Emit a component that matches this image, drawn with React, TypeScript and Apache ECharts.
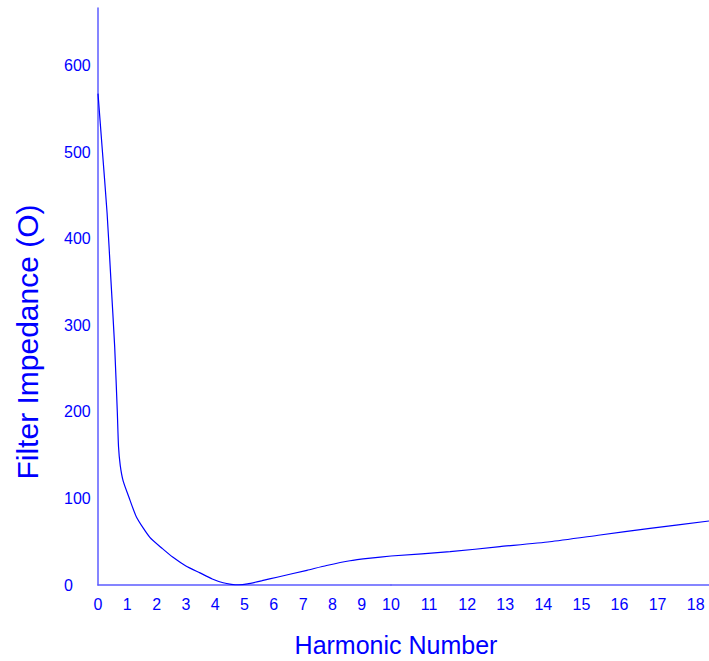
import React, { useEffect, useRef } from "react";
import * as echarts from "echarts";

// Harmonic number (x) and filter impedance (y)
const harmonics = [
  0, 0.14, 0.31, 0.44, 0.57, 0.66, 0.7, 0.76, 0.86, 1.05, 1.32, 1.77, 2.2,
  2.56, 3.0, 3.48, 3.9, 4.27, 4.55, 4.8, 5.1, 5.6, 6.11, 7.13, 7.8, 8.6, 9.3,
  10, 11.55, 12.86, 14.17, 15.49, 16.8, 18.35,
];
const impedance = [
  568, 506, 430, 353, 275, 199, 160, 138, 120, 102, 78, 55, 42, 32, 22, 14,
  7, 2.6, 0.8, 0.2, 1.3, 5, 9, 17, 22.5, 28, 31, 33.5, 38.5, 44.3, 50, 57.8,
  65.5, 74,
];
const xTitle = "Harmonic Number";
const yTitle = "Filter Impedance (O)";
const yMax = 667;
const xSplit = 10;
const xMax = 18.35;

const BLUE = "#0000ff";
const AXIS = "#5c5cff";
const FONT = "Liberation Sans, Arial, sans-serif";

export default function App() {
  const ref = useRef<HTMLDivElement>(null);
  useEffect(() => {
    if (!ref.current) return;
    const chart = echarts.init(ref.current, undefined, { renderer: "svg" });
    const pts = harmonics.map((h, i) => [h, impedance[i]]);
    const part1 = pts.filter((p) => p[0] <= xSplit);
    const part2 = pts.filter((p) => p[0] >= xSplit);
    const xAxisBase = {
      type: "value" as const,
      interval: 1,
      axisLine: { show: true, lineStyle: { color: AXIS, width: 1.5 } },
      axisTick: { show: false },
      splitLine: { show: false },
      axisLabel: { color: BLUE, fontSize: 16, fontFamily: FONT, margin: 11 },
    };
    chart.setOption({
      animation: false,
      grid: [
        { left: 98, top: 8, width: 293, bottom: 76 },
        { left: 391, top: 8, width: 318, bottom: 76 },
      ],
      xAxis: [
        {
          ...xAxisBase,
          gridIndex: 0,
          min: 0,
          max: xSplit,
          axisLabel: { ...xAxisBase.axisLabel, showMaxLabel: false },
        },
        {
          ...xAxisBase,
          gridIndex: 1,
          min: xSplit,
          max: xMax,
          axisLabel: { ...xAxisBase.axisLabel, showMaxLabel: false },
        },
      ],
      yAxis: [
        {
          type: "value",
          gridIndex: 0,
          min: 0,
          max: yMax,
          interval: 100,
          axisLine: { show: true, lineStyle: { color: AXIS, width: 1.5 } },
          axisTick: { show: false },
          splitLine: { show: false },
          axisLabel: {
            color: BLUE,
            fontSize: 16,
            fontFamily: FONT,
            margin: 34,
            align: "left",
            showMaxLabel: false,
          },
        },
        { type: "value", gridIndex: 1, min: 0, max: yMax, show: false },
      ],
      series: [
        {
          type: "line",
          xAxisIndex: 0,
          yAxisIndex: 0,
          data: part1,
          showSymbol: false,
          smooth: 0.2,
          lineStyle: { color: BLUE, width: 1.2 },
        },
        {
          type: "line",
          xAxisIndex: 1,
          yAxisIndex: 1,
          data: part2,
          showSymbol: false,
          smooth: 0.2,
          lineStyle: { color: BLUE, width: 1.2 },
        },
      ],
      graphic: [
        {
          type: "text",
          x: 396,
          y: 645,
          style: {
            text: xTitle,
            fill: BLUE,
            fontSize: 25,
            fontFamily: FONT,
            align: "center",
            verticalAlign: "middle",
          },
        },
        {
          type: "text",
          x: 27,
          y: 342,
          rotation: Math.PI / 2,
          style: {
            text: yTitle,
            fill: BLUE,
            fontSize: 30,
            fontFamily: FONT,
            align: "center",
            verticalAlign: "middle",
          },
        },
      ],
    });
    return () => chart.dispose();
  }, []);
  return (
    <div
      ref={ref}
      style={{ position: "fixed", left: 0, top: 0, width: 709, height: 661, background: "#fff" }}
    />
  );
}
